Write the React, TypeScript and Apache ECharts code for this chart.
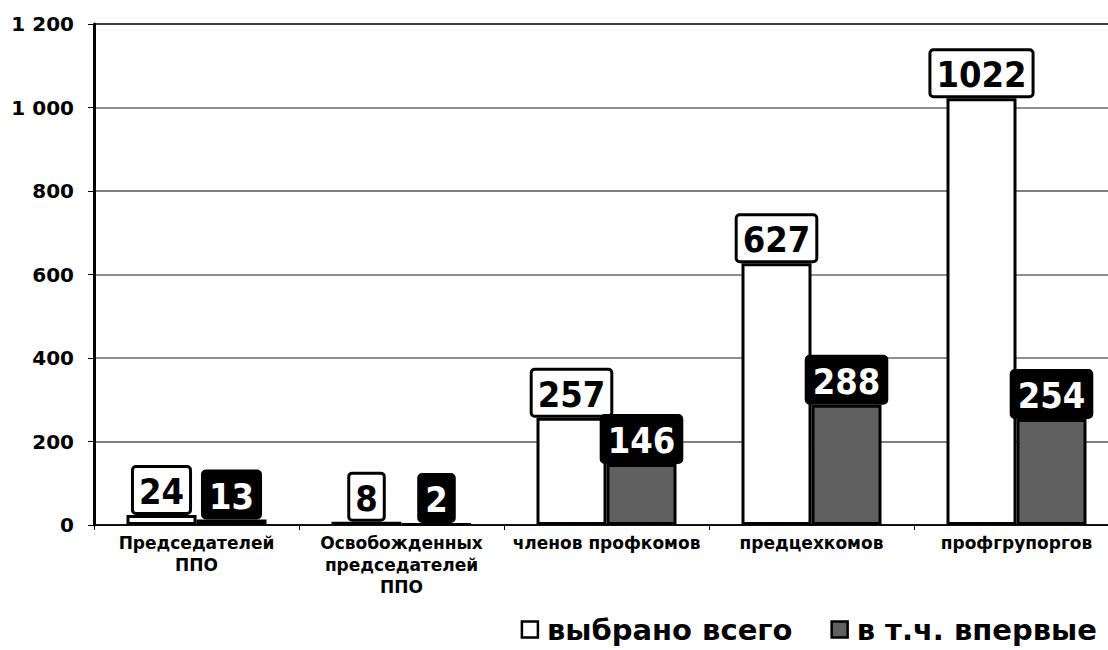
import React, { useEffect, useRef } from "react";
import * as echarts from "echarts";

const categories = [
  "Председателей\nППО",
  "Освобожденных\nпредседателей\nППО",
  "членов профкомов",
  "предцехкомов",
  "профгрупоргов",
];
const seriesNames = ["выбрано всего", "в т.ч. впервые"];
const totalElected = [24, 8, 257, 627, 1022];
const firstTime = [13, 2, 146, 288, 254];
const yMin = 0;
const yMax = 1200;
const yInterval = 200;

const labelFont = "'DejaVu Sans Condensed', 'DejaVu Sans', sans-serif";
const axisFont = "'DejaVu Sans', Verdana, sans-serif";

const fmtThousands = (v: number) =>
  String(v).replace(/\B(?=(\d{3})+(?!\d))/g, " ");

export default function App() {
  const ref = useRef<HTMLDivElement>(null);
  useEffect(() => {
    if (!ref.current) return;
    const chart = echarts.init(ref.current, null, { renderer: "svg" });
    const baseLabel = {
      show: true,
      position: "top" as const,
      distance: 3,
      fontFamily: labelFont,
      fontWeight: "bold" as const,
      fontSize: 36,
      lineHeight: 37,
      borderWidth: 3,
      borderRadius: 2,
      padding: [5, 5, 2, 5],
    };
    chart.setOption({
      animation: false,
      backgroundColor: "#fff",
      grid: {
        left: 94,
        width: 1025,
        top: 24,
        height: 501,
        outerBoundsMode: "none",
        containLabel: false,
        show: false,
      },
      legend: {
        data: seriesNames,
        right: 6,
        bottom: 1,
        itemWidth: 16,
        itemHeight: 16,
        itemGap: 38,
        icon: "rect",
        itemStyle: { borderColor: "#000", borderWidth: 2.5 },
        textStyle: {
          fontFamily: axisFont,
          fontWeight: "bold",
          fontSize: 29,
          color: "#000",
          padding: [0, 0, 0, 4],
        },
      },
      xAxis: {
        type: "category",
        data: categories,
        axisLine: { show: true, lineStyle: { color: "#000", width: 1.5 } },
        axisTick: { show: true, length: 5, lineStyle: { color: "#000" } },
        axisLabel: {
          interval: 0,
          margin: 7,
          fontFamily: axisFont,
          fontWeight: "bold",
          fontSize: 17,
          lineHeight: 22,
          color: "#000",
        },
      },
      yAxis: {
        type: "value",
        min: yMin,
        max: yMax,
        interval: yInterval,
        axisLine: { show: true, lineStyle: { color: "#000", width: 3 } },
        axisTick: { show: true, length: 6, lineStyle: { color: "#000" } },
        splitLine: {
          show: true,
          lineStyle: {
            color: ["#000", "#555", "#6a6a6a", "#6a6a6a", "#555", "#6a6a6a", "#000"],
            width: 1.5,
          },
        },
        axisLabel: {
          margin: 20,
          fontFamily: axisFont,
          fontWeight: "bold",
          fontSize: 20,
          color: "#000",
          formatter: (v: number) => fmtThousands(v),
        },
      },
      series: [
        {
          name: seriesNames[0],
          type: "bar",
          data: totalElected,
          barWidth: 70,
          barGap: "0%",
          itemStyle: { color: "#ffffff", borderColor: "#000", borderWidth: 3 },
          label: {
            ...baseLabel,
            color: "#000",
            backgroundColor: "#fff",
            borderColor: "#000",
          },
        },
        {
          name: seriesNames[1],
          type: "bar",
          data: firstTime,
          barWidth: 70,
          barGap: "0%",
          itemStyle: { color: "#606060", borderColor: "#000", borderWidth: 3 },
          label: {
            ...baseLabel,
            color: "#fff",
            backgroundColor: "#000",
            borderColor: "#000",
          },
        },
      ],
    });
    return () => chart.dispose();
  }, []);
  return (
    <div
      ref={ref}
      style={{ position: "fixed", left: 0, top: 0, width: 1108, height: 650 }}
    />
  );
}
